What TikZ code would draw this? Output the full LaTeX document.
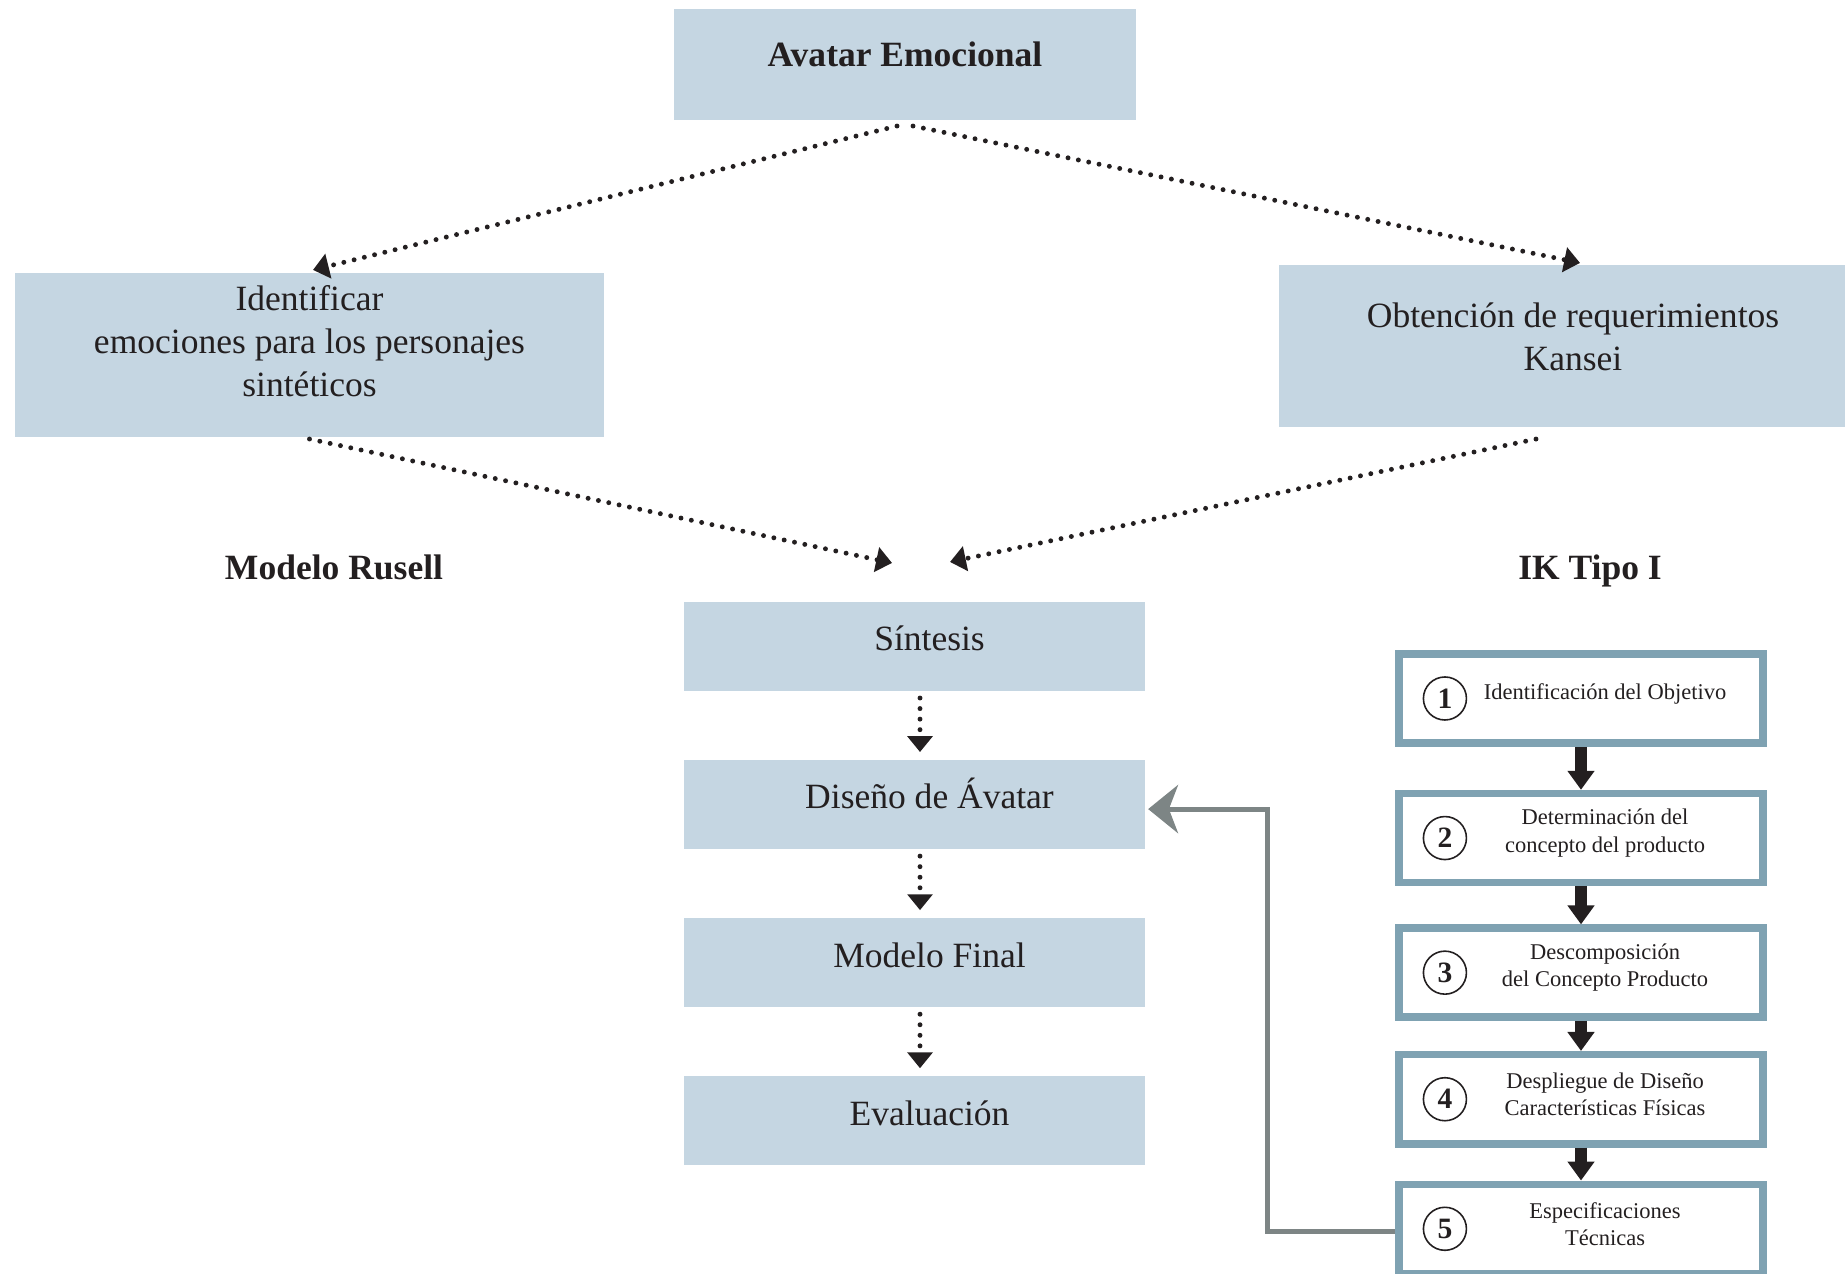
\documentclass[tikz,border=0pt]{standalone}
\usepackage{fontspec}
\setmainfont{Liberation Serif}
\usetikzlibrary{positioning,arrows.meta}

\definecolor{boxfill}{RGB}{197,214,226}
\definecolor{stepline}{RGB}{127,162,178}
\definecolor{ink}{RGB}{35,31,32}
\definecolor{backgray}{RGB}{125,133,133}

\begin{document}
\begin{tikzpicture}[
        x=0.01cm, y=-0.01cm,
        font=\fontsize{10.1}{12.2}\selectfont, text=ink,
        box/.style={fill=boxfill, align=center, outer sep=0pt,
            minimum width=4.61cm, minimum height=0.89cm},
        oneline/.style={text height=0.7em, text depth=0.45em},
        boxtext/.style={align=center},
        coltext/.style={oneline, xshift=0.15cm},
        heading/.style={font=\fontsize{10.1}{12.2}\selectfont\bfseries, text depth=0pt},
        stepbox/.style={draw=stepline, line width=0.075cm, fill=white,
            minimum width=3.64cm, minimum height=0.89cm},
        steptext/.style={align=center, xshift=0.24cm, yshift=0.05cm,
            font=\fontsize{6.4}{7.7}\selectfont},
        num/.style={circle, draw=ink, line width=0.45pt, minimum size=0.43cm,
            inner sep=0pt, xshift=-1.36cm, font=\fontsize{8.4}{9}\selectfont\bfseries},
        dotarrow/.style={draw=ink, line width=1.4pt, line cap=round,
            dash pattern=on 0pt off 3pt, -{Triangle[length=4.5pt, width=7pt]}},
        flow/.style={draw=ink, line width=3.4pt, -{Triangle[length=5.4pt, width=7.4pt]}},
        back/.style={draw=backgray, line width=1.4pt,
            -{Stealth[length=8.5pt, width=13.7pt, inset=2.6pt]}},
    ]
    \useasboundingbox (0,0) rectangle (1845,1274);
    \clip (0,0) rectangle (1845,1274);

    % top level
    \node[box, oneline, text depth=0.6em, minimum width=4.62cm, minimum height=1.11cm,
        font=\fontsize{10.1}{12.2}\selectfont\bfseries] (avatar) at (905,64.5) {Avatar Emocional};
    \node[box, minimum width=5.89cm, minimum height=1.64cm,
        label={[boxtext, yshift=0.14cm]center:{Identificar\\ emociones para los personajes\\ sintéticos}}]
        (ident) at (309.5,355) {};
    \node[box, minimum width=5.88cm, minimum height=1.62cm,
        label={[boxtext, yshift=0.09cm]center:{Obtención de requerimientos\\ Kansei}}]
        (kansei) at (1573,346) {};

    % headings
    \node[heading] (russell) at (334,567) {Modelo Rusell};
    \node[heading] (iktitle) at (1590,567) {IK Tipo I};

    % centre column
    \node[box, label={[coltext]center:Síntesis}] (synth) at (914.5,646.5) {};
    \node[box, below=0.69cm of synth, label={[coltext]center:Diseño de Ávatar}] (design) {};
    \node[box, below=0.69cm of design, label={[coltext]center:Modelo Final}] (final) {};
    \node[box, below=0.69cm of final, label={[coltext]center:Evaluación}] (eval) {};

    % IK steps
    \node[stepbox, label={[num]center:1},
        label={[steptext]center:{Identificación del Objetivo}}] (k1) at (1581,698.5) {};
    \node[stepbox, below=0.43cm of k1, label={[num]center:2},
        label={[steptext]center:{Determinación del\\ concepto del producto}}] (k2) {};
    \node[stepbox, below=0.38cm of k2, label={[num]center:3},
        label={[steptext]center:{Descomposición\\ del Concepto Producto}}] (k3) {};
    \node[stepbox, below=0.30cm of k3, label={[num]center:4},
        label={[steptext]center:{Despliegue de Diseño\\ Características Físicas}}] (k4) {};
    \node[stepbox, below=0.33cm of k4, label={[num]center:5},
        label={[steptext]center:{Especificaciones\\ Técnicas}}] (k5) {};

    % dotted links
    \draw[dotarrow] ([xshift=-0.08cm, yshift=-0.06cm]avatar.south) -- ([xshift=0.035cm, yshift=0.03cm]ident.north);
    \draw[dotarrow] ([xshift=0.08cm, yshift=-0.06cm]avatar.south) -- ([xshift=0.07cm, yshift=0.02cm]kansei.north);
    \coordinate (inL) at ([xshift=-0.225cm, yshift=0.39cm]synth.north);
    \coordinate (inR) at ([xshift=0.355cm, yshift=0.40cm]synth.north);
    \draw[dotarrow] ([yshift=-0.02cm]ident.south) -- (inL);
    \draw[dotarrow] ([xshift=-0.37cm, yshift=-0.12cm]kansei.south) -- (inR);

    \draw[dotarrow, shorten <=0.07cm, shorten >=0.08cm] ([xshift=0.055cm]synth.south) -- ([xshift=0.055cm]design.north);
    \draw[dotarrow, shorten <=0.07cm, shorten >=0.08cm] ([xshift=0.055cm]design.south) -- ([xshift=0.055cm]final.north);
    \draw[dotarrow, shorten <=0.07cm, shorten >=0.08cm] ([xshift=0.055cm]final.south) -- ([xshift=0.055cm]eval.north);

    % IK flow and feedback
    \draw[flow] (k1) -- (k2);
    \draw[flow] (k2) -- (k3);
    \draw[flow] (k3) -- (k4);
    \draw[flow] (k4) -- (k5);
    \draw[back, shorten >=0.03cm] ([yshift=-0.03cm]k5.west) -- ++(-128,0) |- ([yshift=-0.045cm]design.east);
\end{tikzpicture}
\end{document}
